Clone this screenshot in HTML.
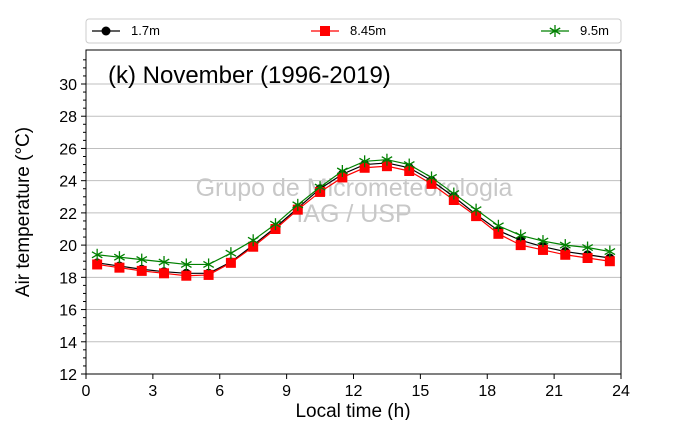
<!DOCTYPE html><html><head><meta charset="utf-8"><style>body{margin:0;background:#fff}svg{font-family:"Liberation Sans","DejaVu Sans",sans-serif}</style></head><body>
<svg id="c" width="690" height="420"></svg>
<script>
const hours=[0.5,1.5,2.5,3.5,4.5,5.5,6.5,7.5,8.5,9.5,10.5,11.5,12.5,13.5,14.5,15.5,16.5,17.5,18.5,19.5,20.5,21.5,22.5,23.5];
const s17=[18.9,18.7,18.5,18.35,18.25,18.25,18.95,20.0,21.1,22.3,23.5,24.4,25.0,25.1,24.8,24.0,23.0,21.9,20.9,20.3,19.9,19.6,19.4,19.2];
const s845=[18.8,18.6,18.4,18.25,18.1,18.15,18.9,19.9,21.0,22.2,23.3,24.2,24.8,24.9,24.6,23.8,22.8,21.8,20.7,20.0,19.7,19.4,19.2,19.0];
const s95=[19.4,19.25,19.1,18.95,18.8,18.8,19.5,20.3,21.3,22.5,23.6,24.6,25.2,25.3,25.0,24.2,23.2,22.2,21.2,20.6,20.25,20.0,19.85,19.6];
const xTicks=[0,3,6,9,12,15,18,21,24];
const yTicks=[12,14,16,18,20,22,24,26,28,30];
const L=86,R=621,T=50,B=374;
const X=v=>L+(v-0)/24*(R-L);
const Y=v=>B-(v-12)/18*290;
const svg=document.getElementById('c');const NS='http://www.w3.org/2000/svg';
function el(t,a,p){const e=document.createElementNS(NS,t);for(const k in a)e.setAttribute(k,a[k]);(p||svg).appendChild(e);return e;}
for(const v of yTicks){
const g=el('line',{x1:L,x2:R,y1:Y(v),y2:Y(v),stroke:'#bfbfbf','stroke-width':1});


const t=el('line',{x1:L-5,x2:L,y1:Y(v),y2:Y(v),stroke:'#000'});
const lb=el('text',{x:L-9,y:Y(v)+6,'text-anchor':'end','font-size':16});lb.textContent=v;


}
for(let v=12;v<=32;v+=0.5){if(v%2)el('line',{x1:L-3,x2:L,y1:Y(v),y2:Y(v),stroke:'#000'});}
for(const v of xTicks){
el('line',{x1:X(v),x2:X(v),y1:B,y2:B+5,stroke:'#000'});
const lb=el('text',{x:X(v),y:B+22,'text-anchor':'middle','font-size':16});lb.textContent=v;


}
const wm=el('text',{x:354,y:196,'text-anchor':'middle','font-size':25,fill:'#c8c8c8'});wm.textContent='Grupo de Micrometeorologia';


const wm2=el('text',{x:354,y:222,'text-anchor':'middle','font-size':25,fill:'#c8c8c8'});wm2.textContent='IAG / USP';


function marker(type,x,y,c,g){
if(type==='o')el('circle',{cx:x,cy:y,r:4.5,fill:c},g);
else if(type==='s')el('rect',{x:x-5,y:y-5,width:10,height:10,fill:c},g);
else{for(const a of [0,60,120]){const r=a*Math.PI/180;el('line',{x1:x-6*Math.sin(r),y1:y-6*Math.cos(r),x2:x+6*Math.sin(r),y2:y+6*Math.cos(r),stroke:c,'stroke-width':1.3},g);}}
}
const series=[[s17,'#000','o','series-1-7m'],[s845,'#ff0000','s','series-8-45m'],[s95,'#008000','x','series-9-5m']];
for(const [d,c,m,n] of series){
const g=el('g',{});
el('polyline',{points:d.map((v,i)=>X(hours[i])+','+Y(v)).join(' '),fill:'none',stroke:c,'stroke-width':1.2},g);
d.forEach((v,i)=>marker(m,X(hours[i]),Y(v),c,g));
}
el('rect',{x:L,y:T,width:R-L,height:B-T,fill:'none',stroke:'#000','stroke-width':1});
const ti=el('text',{x:108,y:83,'font-size':24});ti.textContent='(k) November (1996-2019)';


const yt=el('text',{transform:'translate(29,212) rotate(-90)','text-anchor':'middle','font-size':19});yt.textContent='Air temperature (°C)';


const xt=el('text',{x:353,y:417,'text-anchor':'middle','font-size':19});xt.textContent='Local time (h)';


const lg=el('g',{});
el('rect',{x:86,y:19,width:535,height:24,rx:3,fill:'#fff',stroke:'#ccc'},lg);
const items=[[92,'1.7m','#000','o'],[311,'8.45m','#ff0000','s'],[541,'9.5m','#008000','x']];
for(const [x,t,c,m] of items){
const g=el('g',{},lg);
el('line',{x1:x,x2:x+28,y1:31,y2:31,stroke:c,'stroke-width':1.2},g);
marker(m,x+14,31,c,g);
const tx=el('text',{x:x+39,y:35,'font-size':13},g);tx.textContent=t;
}
</script></body></html>
